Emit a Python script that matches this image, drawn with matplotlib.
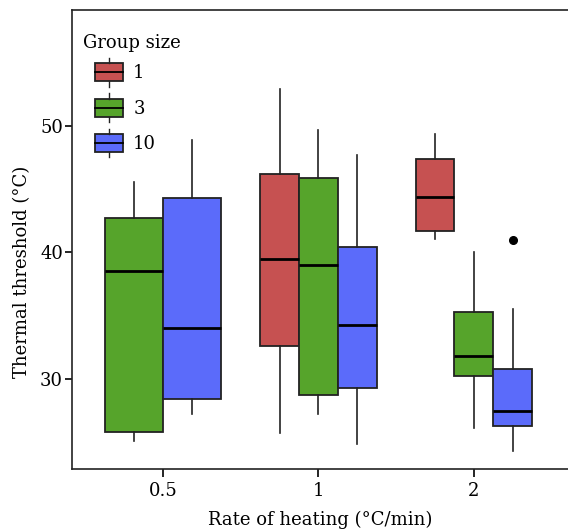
import matplotlib
matplotlib.use('Agg')
import matplotlib.pyplot as plt
from matplotlib.patches import Rectangle
from matplotlib.lines import Line2D
from matplotlib.legend_handler import HandlerBase

plt.rcParams['font.family'] = 'DejaVu Serif'
plt.rcParams['font.size'] = 13

# ---------- data ----------
rates  = ['0.5', '1', '2']
groups = ['1', '3', '10']
colors = {'1': '#C65151', '3': '#56A42B', '10': '#5B6BFA'}

# per group: values for each rate (None = no data)
whislo = {'1': [None, 25.7, 41.1], '3': [25.1, 27.2, 26.1], '10': [27.2, 24.9, 24.3]}
q1     = {'1': [None, 32.6, 41.7], '3': [25.8, 28.7, 30.2], '10': [28.4, 29.3, 26.3]}
med    = {'1': [None, 39.5, 44.4], '3': [38.5, 39.0, 31.8], '10': [34.0, 34.3, 27.5]}
q3     = {'1': [None, 46.2, 47.4], '3': [42.7, 45.9, 35.3], '10': [44.3, 40.4, 30.8]}
whishi = {'1': [None, 52.9, 49.4], '3': [45.6, 49.7, 40.0], '10': [48.9, 47.7, 35.5]}
fliers = {'1': [[], [], []], '3': [[], [], []], '10': [[], [], [41.0]]}

dodge = 0.75
edge = '#222222'

fig = plt.figure(figsize=(5.68, 5.32), dpi=100)
ax = fig.add_axes([72/568, 63/532, 496/568, 459/532])

for i, r in enumerate(rates):
    present = [g for g in groups if med[g][i] is not None]
    n = len(present)
    w = dodge / n
    for j, g in enumerate(present):
        pos = i - dodge/2 + w/2 + j*w
        st = dict(med=med[g][i], q1=q1[g][i], q3=q3[g][i],
                  whislo=whislo[g][i], whishi=whishi[g][i], fliers=fliers[g][i])
        ax.bxp([st], positions=[pos], widths=w, patch_artist=True, showcaps=False,
               boxprops=dict(facecolor=colors[g], edgecolor=edge, linewidth=1.3),
               medianprops=dict(color='black', linewidth=2.0),
               whiskerprops=dict(color='#222222', linewidth=1.2),
               flierprops=dict(marker='o', markerfacecolor='black', markeredgecolor='black',
                               markersize=5.5))

ax.set_xlim(-0.585, 2.605)
ax.set_ylim(22.885, 59.17)
ax.set_xticks(range(len(rates)))
ax.set_xticklabels(rates)
ax.set_yticks([30, 40, 50])
ax.spines['right'].set_visible(False)
for s in ['left', 'bottom', 'top']:
    ax.spines[s].set_linewidth(1.2)
    ax.spines[s].set_color('#222222')
ax.tick_params(axis='y', length=5, width=1.2, pad=1.5, labelsize=13)
ax.tick_params(axis='x', length=6, width=1.2, pad=3, labelsize=13)

ax.set_xlabel('Rate of heating (°C/min)', labelpad=8)
ax.set_ylabel('Thermal threshold (°C)')
ax.yaxis.set_label_coords(-0.082, 0.43)


class BoxHandler(HandlerBase):
    # box glyph with median line and whisker stubs, indented under the title
    def create_artists(self, legend, orig_handle, xdescent, ydescent,
                       width, height, fontsize, trans):
        indent = width * 0.3
        x0, y0 = -xdescent + indent, -ydescent
        bw = width - indent
        rect = Rectangle((x0, y0), bw, height, facecolor=orig_handle.get_facecolor(),
                         edgecolor=edge, linewidth=1.3, transform=trans)
        m = Line2D([x0, x0 + bw], [y0 + height/2]*2, color='black', lw=1.3, transform=trans)
        cx = x0 + bw/2
        wt = Line2D([cx, cx], [y0 + height, y0 + height*1.3], color=edge, lw=1.0, transform=trans)
        wb = Line2D([cx, cx], [y0, y0 - height*0.3], color=edge, lw=1.0, transform=trans)
        return [rect, m, wt, wb]


handles = [Rectangle((0, 0), 1, 1, facecolor=colors[g]) for g in groups]
leg = ax.legend(handles, groups, title='Group size', loc='upper left',
                bbox_to_anchor=(70.5/568, 1 - 21/532), bbox_transform=fig.transFigure,
                frameon=False, handler_map={Rectangle: BoxHandler()},
                handlelength=2.22, handleheight=1.15, labelspacing=0.9,
                handletextpad=0.55, borderpad=0.2, alignment='left',
                fontsize=13, title_fontsize=13)
leg._legend_box.sep = 8.4  # title a bit closer to the entries

fig.savefig('out.png', dpi=100)
